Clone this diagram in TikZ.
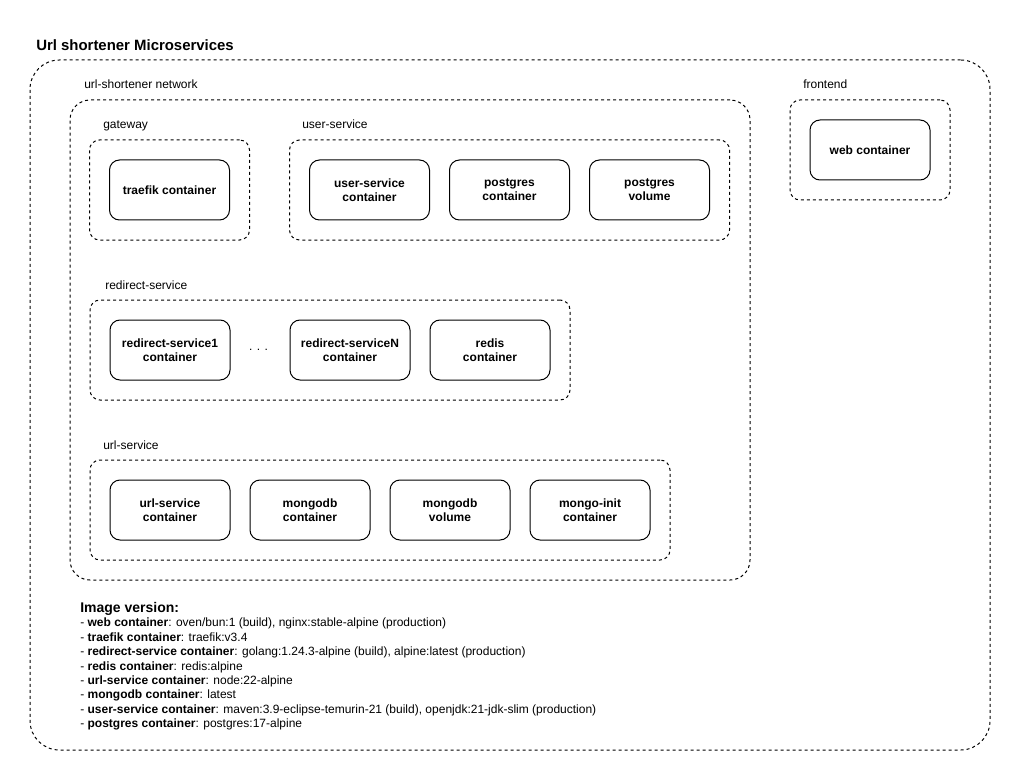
\documentclass[tikz,border=0pt]{standalone}
\usepackage{fontspec}
\setmainfont{Liberation Sans}
\usetikzlibrary{positioning}

\tikzset{
  grp/.style={draw, line width=0.75pt, dash pattern=on 2.25pt off 2.25pt,
    rounded corners=7.5pt, inner sep=0pt, outer sep=0pt},
  ctr/.style={draw, line width=0.75pt, rounded corners=7.5pt, inner sep=0pt,
    outer sep=0pt, minimum width=90pt, minimum height=45pt, align=center,
    font=\fontsize{9}{10.5}\selectfont\bfseries},
  lbl/.style={anchor=base west, inner sep=0pt, font=\fontsize{9}{10.5}\selectfont},
}

\begin{document}
\begin{tikzpicture}[x=0.75pt, y=-0.75pt, node distance=15pt]
\useasboundingbox (0,0) rectangle (1021,781);

% outer frame and network
\node[grp, rounded corners=22pt, minimum width=720pt, minimum height=517.5pt]
  (outer) at (510,405) {};
\node[anchor=base west, inner sep=0pt, font=\fontsize{11.2}{12}\selectfont\bfseries]
  (title) at (36,51) {Url shortener Microservices};
\node[grp, rounded corners=15pt, minimum width=510pt, minimum height=360pt]
  (net) at (410,340) {};
\node[lbl] (netlbl) at (84,89) {url-shortener network};

% frontend
\node[grp, minimum width=120pt, minimum height=75pt] (frontend) at (870,150) {};
\node[lbl] (frontendlbl) at (803,89) {frontend};
\node[ctr] (web) at (870,150) {web container};

% gateway
\node[grp, minimum width=120pt, minimum height=75pt] (gateway) at (169.5,190) {};
\node[lbl] (gatewaylbl) at (103,129) {gateway};
\node[ctr] (traefik) at (169.5,190) {traefik container};

% user-service
\node[grp, minimum width=330pt, minimum height=75pt] (usersvc) at (509.5,190) {};
\node[lbl] (usersvclbl) at (302,129) {user-service};
\node[ctr] (userctr) at (369.5,190) {user-service\\container};
\node[ctr, right=of userctr] (pgctr) {postgres\\container};
\node[ctr, right=of pgctr] (pgvol) {postgres\\volume};

% redirect-service
\node[grp, minimum width=360pt, minimum height=75pt] (redirsvc) at (330,350) {};
\node[lbl] (redirsvclbl) at (105,289) {redirect-service};
\node[ctr] (redir1) at (170,350) {redirect-service1\\container};
\node[ctr] (redirn) at (350,350) {redirect-serviceN\\container};
\node[ctr, right=of redirn] (redis) {redis\\container};
\node[inner sep=0pt, font=\fontsize{9}{10.5}\selectfont] (dots) at (258.5,350) {. . .};

% url-service
\node[grp, minimum width=435pt, minimum height=75pt] (urlsvc) at (380,510) {};
\node[lbl] (urlsvclbl) at (103,449) {url-service};
\node[ctr] (urlctr) at (170,510) {url-service\\container};
\node[ctr, right=of urlctr] (mongoctr) {mongodb\\container};
\node[ctr, right=of mongoctr] (mongovol) {mongodb\\volume};
\node[ctr, right=of mongovol] (mongoinit) {mongo-init\\container};

% image versions
\node[anchor=north west, inner sep=0pt, align=left,
  font=\fontsize{9}{10.8}\selectfont] (versions) at (80,602) {%
  {\fontsize{10.5}{10.8}\selectfont\bfseries Image version:}\\
  - \textbf{web container}: oven/bun:1 (build), nginx:stable-alpine (production)\\
  - \textbf{traefik container}: traefik:v3.4\\
  - \textbf{redirect-service container}: golang:1.24.3-alpine (build), alpine:latest (production)\\
  - \textbf{redis container}: redis:alpine\\
  - \textbf{url-service container}: node:22-alpine\\
  - \textbf{mongodb container}: latest\\
  - \textbf{user-service container}: maven:3.9-eclipse-temurin-21 (build), openjdk:21-jdk-slim (production)\\
  - \textbf{postgres container}: postgres:17-alpine};
\end{tikzpicture}
\end{document}
